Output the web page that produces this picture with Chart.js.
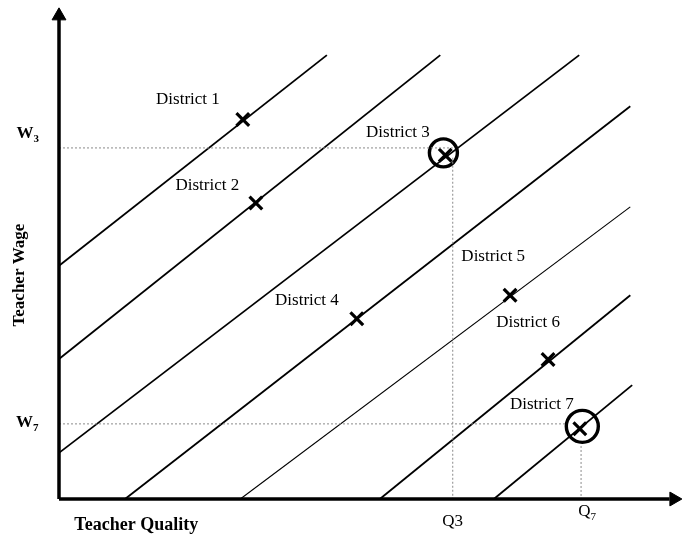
<!DOCTYPE html>
<html>
<head>
<meta charset="utf-8">
<script src="https://cdn.jsdelivr.net/npm/chart.js@4.4.0/dist/chart.umd.min.js"></script>
<style>
  body { margin: 0; background: #fff; }
  canvas { display: block; }
</style>
</head>
<body>
<canvas id="wageChart" width="689" height="536"></canvas>
<script>
// districts and where each one sits (quality on x, wage on y, 0-100 units)
const districts = ['District 1', 'District 2', 'District 3', 'District 4', 'District 5', 'District 6', 'District 7'];
const districtQuality = [29.5, 31.6, 62.0, 47.8, 72.4, 78.5, 83.6];
const districtWage = [77.3, 60.3, 70.0, 36.7, 41.5, 28.4, 14.3];
const circledDistricts = [2, 6];

// the parallel lines, one per district
const lineStartX = [0, 0, 0, 10.6, 29.1, 51.5, 69.8];
const lineStartY = [47.5, 28.5, 9.4, 0, 0, 0, 0];
const lineEndX = [43.0, 61.2, 83.5, 91.7, 91.7, 91.7, 92.0];
const lineEndY = [90.4, 90.4, 90.4, 80.0, 59.5, 41.5, 23.2];

// guide values marked on the axes
const wageTicks = ['W3', 'W7'];
const wageTickValues = [71.5, 15.3];
const qualityTicks = ['Q3', 'Q7'];
const qualityTickValues = [63.2, 83.8];

// label spots (same units as the data)
const labelX = [20.7, 23.8, 54.4, 39.8, 69.7, 75.3, 77.5];
const labelY = [81.3, 63.9, 74.7, 40.5, 49.3, 36.0, 19.3];

const datasets = [];

// axes with arrow heads
datasets.push({ data: [{x: 0, y: 0}, {x: 0, y: 98}], showLine: true, borderColor: '#000', borderWidth: 3.5, pointRadius: 0, clip: false });
datasets.push({ data: [{x: 0, y: 0}, {x: 98, y: 0}], showLine: true, borderColor: '#000', borderWidth: 3.5, pointRadius: 0, clip: false });
datasets.push({
    data: [{x: 0, y: 98.4}, {x: 98.7, y: 0}],
    showLine: false, pointStyle: 'triangle', pointRadius: 8, rotation: [0, 90],
    backgroundColor: '#000', borderColor: '#000', borderWidth: 1, clip: false
});

// dotted guides
const guides = [
    [{x: 0, y: wageTickValues[0]}, {x: qualityTickValues[0], y: wageTickValues[0]}],
    [{x: qualityTickValues[0], y: 69.5}, {x: qualityTickValues[0], y: 0}],
    [{x: 0, y: wageTickValues[1]}, {x: 81.3, y: wageTickValues[1]}],
    [{x: qualityTickValues[1], y: 10.8}, {x: qualityTickValues[1], y: 0}]
];
guides.forEach(g => {
    datasets.push({ data: g, showLine: true, borderColor: '#8a8a8a', borderWidth: 1, borderDash: [2, 2], pointRadius: 0, clip: false });
});

// district lines
lineStartX.forEach((sx, i) => {
    datasets.push({
        data: [{x: sx, y: lineStartY[i]}, {x: lineEndX[i], y: lineEndY[i]}],
        showLine: true, borderColor: '#000', borderWidth: i === 4 ? 1.1 : 1.8,
        pointRadius: 0, clip: false
    });
});

// crosses
datasets.push({
    data: districtQuality.map((q, i) => ({x: q, y: districtWage[i]})),
    showLine: false, pointStyle: 'crossRot', pointRadius: 9,
    borderColor: '#000', borderWidth: 3.2, clip: false
});

// circles round districts 3 and 7
datasets.push({
    data: circledDistricts.map(i => ({x: districtQuality[i] - 0.3 + (i === 6 ? 0.7 : 0), y: districtWage[i] + 0.5})),
    showLine: false, pointStyle: 'circle', pointRadius: [14, 16],
    borderColor: '#000', borderWidth: 3.4, backgroundColor: 'rgba(0,0,0,0)', clip: false
});

const serif = '"Liberation Serif", "Times New Roman", serif';

function subText(ctx, base, sub, x, y, size, bold) {
    ctx.font = (bold ? 'bold ' : '') + size + 'px ' + serif;
    const w1 = ctx.measureText(base).width;
    ctx.font = (bold ? 'bold ' : '') + Math.round(size * 0.65) + 'px ' + serif;
    const w2 = ctx.measureText(sub).width;
    const left = x - (w1 + w2) / 2;
    ctx.textAlign = 'left';
    ctx.font = (bold ? 'bold ' : '') + size + 'px ' + serif;
    ctx.fillText(base, left, y);
    ctx.font = (bold ? 'bold ' : '') + Math.round(size * 0.65) + 'px ' + serif;
    ctx.fillText(sub, left + w1, y + size * 0.3);
}

const textPlugin = {
    id: 'textLabels',
    afterDatasetsDraw(chart) {
        const ctx = chart.ctx;
        const xs = chart.scales.x, ys = chart.scales.y;
        ctx.save();
        ctx.fillStyle = '#000';
        ctx.textBaseline = 'middle';
        ctx.textAlign = 'center';
        ctx.font = '17px ' + serif;
        districts.forEach((d, i) => {
            ctx.fillText(d, xs.getPixelForValue(labelX[i]), ys.getPixelForValue(labelY[i]));
        });

        // W3 sits a little above its guide, W7 on it
        subText(ctx, 'W', '3', xs.getPixelForValue(-5.0), ys.getPixelForValue(wageTickValues[0]) - 14, 17, true);
        subText(ctx, 'W', '7', xs.getPixelForValue(-5.1), ys.getPixelForValue(wageTickValues[1]) - 1, 17, true);

        ctx.textAlign = 'center';
        ctx.font = '17px ' + serif;
        ctx.fillText(qualityTicks[0], xs.getPixelForValue(qualityTickValues[0]), ys.getPixelForValue(0) + 23);
        subText(ctx, 'Q', '7', xs.getPixelForValue(qualityTickValues[1]) + 6, ys.getPixelForValue(0) + 13, 17, false);

        ctx.textAlign = 'center';
        ctx.font = 'bold 18px ' + serif;
        ctx.fillText('Teacher Quality', xs.getPixelForValue(12.4), ys.getPixelForValue(0) + 26);

        ctx.font = 'bold 17px ' + serif;
        ctx.translate(xs.getPixelForValue(-6.3), ys.getPixelForValue(45.6));
        ctx.rotate(-Math.PI / 2);
        ctx.fillText('Teacher Wage', 0, 0);
        ctx.restore();
    }
};

new Chart(document.getElementById('wageChart').getContext('2d'), {
    type: 'scatter',
    data: { datasets: datasets },
    options: {
        responsive: false,
        animation: false,
        layout: { autoPadding: false, padding: { left: 59, right: 7, top: 8, bottom: 37 } },
        scales: {
            x: { type: 'linear', min: 0, max: 100, display: false },
            y: { type: 'linear', min: 0, max: 100, display: false }
        },
        plugins: { legend: { display: false }, tooltip: { enabled: false } }
    },
    plugins: [textPlugin]
});
</script>
</body>
</html>
